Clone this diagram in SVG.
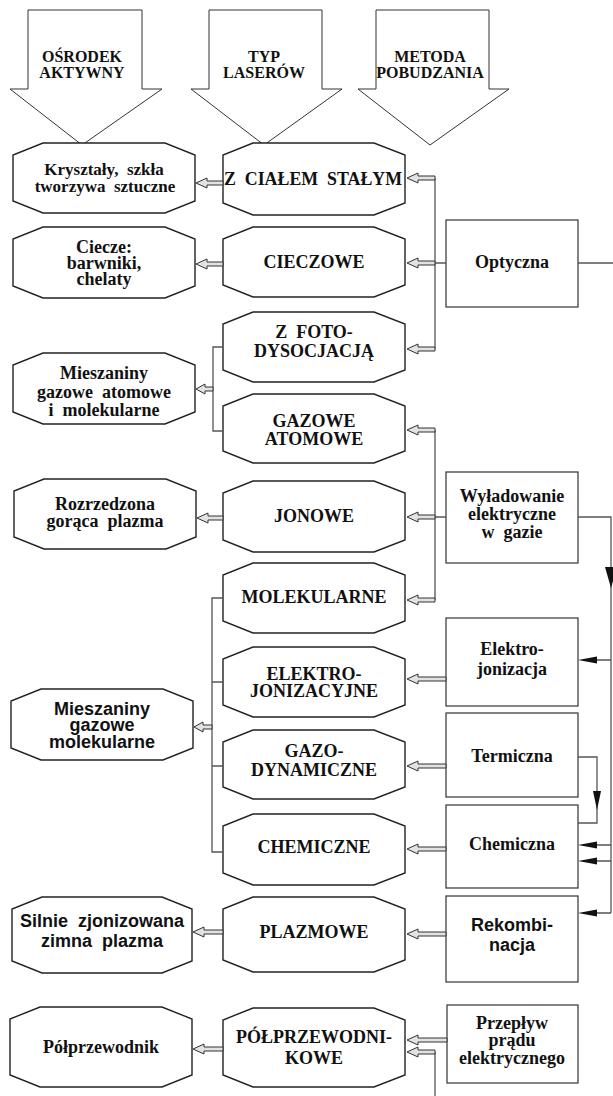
<svg xmlns="http://www.w3.org/2000/svg" width="613" height="1096" viewBox="0 0 613 1096">
<style>
.bg{fill:#fff}
.hd{fill:#fff;stroke:#333;stroke-width:1}
.oct{fill:#fff;stroke:#222;stroke-width:1.4}
.box{fill:#fff;stroke:#333;stroke-width:1.2}
.t{font-family:"Liberation Serif","Times New Roman",serif;font-weight:bold;font-size:18px;text-anchor:middle;fill:#111;white-space:pre}
.a{font-family:"Liberation Sans",Arial,sans-serif;font-weight:bold;font-size:18px;text-anchor:middle;fill:#111;white-space:pre}
.h{font-size:16px}
.s17{font-size:17px}
.ln{fill:none;stroke:#555;stroke-width:1.3}
.ha{fill:#e2e2e2;stroke:#333;stroke-width:1}
.ah{fill:#111;stroke:none}
</style>
<rect class="bg" x="0" y="0" width="613" height="1096"/>

<g id="head-osrodek">
<polygon class="hd" points="28,10 142,10 142,89 162,89 82,145 10,89 28,89"/>
<text class="t h" x="82" y="62">OŚRODEK</text>
<text class="t h" x="82" y="78">AKTYWNY</text>
</g>
<g id="head-typ">
<polygon class="hd" points="209,10 322,10 322,89 342,89 264,145 191,89 209,89"/>
<text class="t h" x="264" y="62">TYP</text>
<text class="t h" x="264" y="78">LASERÓW</text>
</g>
<g id="head-metoda">
<polygon class="hd" points="376,10 489,10 489,89 509,89 430,145 358,89 376,89"/>
<text class="t h" x="430" y="62">METODA</text>
<text class="t h" x="430" y="78">POBUDZANIA</text>
</g>

<!-- left column -->
<g id="n-krysztaly">
<polygon class="oct" points="43,143 165,143 195,155 195,201 165,213 43,213 13,201 13,155"/>
<text class="t s17" x="104" y="175">Kryształy,  szkła</text>
<text class="t s17" x="105" y="192">tworzywa  sztuczne</text>
</g>
<g id="n-ciecze">
<polygon class="oct" points="43,227 165,227 195,239 195,286 165,298 43,298 13,286 13,239"/>
<text class="t" x="104" y="253">Ciecze:</text>
<text class="t" x="104" y="269">barwniki,</text>
<text class="t" x="104" y="285">chelaty</text>
</g>
<g id="n-miesz-atom">
<polygon class="oct" points="43,353 165,353 195,365 195,412 165,424 43,424 13,412 13,365"/>
<text class="t" x="104" y="379">Mieszaniny</text>
<text class="t" x="104" y="398">gazowe  atomowe</text>
<text class="t" x="104" y="416">i  molekularne</text>
</g>
<g id="n-rozrzedzona">
<polygon class="oct" points="44,479 166,479 196,491 196,537 166,549 44,549 14,537 14,491"/>
<text class="t" x="105" y="510">Rozrzedzona</text>
<text class="t" x="105" y="527">gorąca  plazma</text>
</g>
<g id="n-miesz-mol">
<polygon class="oct" points="41,689 163,689 193,701 193,748 163,760 41,760 11,748 11,701"/>
<text class="a" x="102" y="715">Mieszaniny</text>
<text class="a" x="102" y="731">gazowe</text>
<text class="a" x="102" y="748">molekularne</text>
</g>
<g id="n-silnie">
<polygon class="oct" points="42,897 162,897 192,909 192,961 162,973 42,973 12,961 12,909"/>
<text class="a" x="102" y="927">Silnie  zjonizowana</text>
<text class="a" x="102" y="947">zimna  plazma</text>
</g>
<g id="n-polprzewodnik">
<polygon class="oct" points="40,1007 162,1007 192,1019 192,1075 162,1087 40,1087 10,1075 10,1019"/>
<text class="t" x="101" y="1053">Półprzewodnik</text>
</g>

<!-- middle column -->
<g id="n-cialem">
<polygon class="oct" points="253,143 374,143 405,155 405,203 374,215 253,215 223,203 223,155"/>
<text class="t" x="313" y="185" textLength="178" lengthAdjust="spacingAndGlyphs">Z  CIAŁEM  STAŁYM</text>
</g>
<g id="n-cieczowe">
<polygon class="oct" points="253,227 374,227 405,239 405,285 374,297 253,297 223,285 223,239"/>
<text class="t" x="314" y="268">CIECZOWE</text>
</g>
<g id="n-foto">
<polygon class="oct" points="253,312 374,312 405,324 405,370 374,382 253,382 223,370 223,324"/>
<text class="t" x="314" y="338">Z  FOTO-</text>
<text class="t" x="314" y="357">DYSOCJACJĄ</text>
</g>
<g id="n-gazowe">
<polygon class="oct" points="253,394 374,394 405,406 405,451 374,463 253,463 223,451 223,406"/>
<text class="t" x="314" y="427">GAZOWE</text>
<text class="t" x="314" y="445">ATOMOWE</text>
</g>
<g id="n-jonowe">
<polygon class="oct" points="253,481 374,481 405,493 405,540 374,552 253,552 223,540 223,493"/>
<text class="t" x="314" y="522">JONOWE</text>
</g>
<g id="n-molekularne">
<polygon class="oct" points="253,563 374,563 405,575 405,621 374,633 253,633 223,621 223,575"/>
<text class="t" x="314" y="603">MOLEKULARNE</text>
</g>
<g id="n-elektro">
<polygon class="oct" points="253,647 374,647 405,659 405,705 374,717 253,717 223,705 223,659"/>
<text class="t" x="314" y="680">ELEKTRO-</text>
<text class="t" x="314" y="697">JONIZACYJNE</text>
</g>
<g id="n-gazodyn">
<polygon class="oct" points="253,730 374,730 405,742 405,787 374,799 253,799 223,787 223,742"/>
<text class="t" x="314" y="757">GAZO-</text>
<text class="t" x="314" y="776">DYNAMICZNE</text>
</g>
<g id="n-chemiczne">
<polygon class="oct" points="253,814 374,814 405,826 405,873 374,885 253,885 223,873 223,826"/>
<text class="t" x="314" y="853">CHEMICZNE</text>
</g>
<g id="n-plazmowe">
<polygon class="oct" points="253,897 374,897 405,909 405,960 374,972 253,972 223,960 223,909"/>
<text class="t" x="314" y="938">PLAZMOWE</text>
</g>
<g id="n-polprzew-typ">
<polygon class="oct" points="253,1008 374,1008 405,1020 405,1075 374,1087 253,1087 223,1075 223,1020"/>
<text class="t" x="314" y="1043">PÓŁPRZEWODNI-</text>
<text class="t" x="314" y="1064">KOWE</text>
</g>

<!-- right column -->
<g id="n-optyczna">
<rect class="box" x="446" y="220" width="132" height="87"/>
<text class="t" x="512" y="268">Optyczna</text>
</g>
<g id="n-wyladowanie">
<rect class="box" x="446" y="472" width="132" height="91"/>
<text class="t" x="512" y="502">Wyładowanie</text>
<text class="t" x="512" y="520">elektryczne</text>
<text class="t" x="512" y="538">w  gazie</text>
</g>
<g id="n-elektrojon">
<rect class="box" x="446" y="618" width="132" height="88"/>
<text class="t" x="512" y="655">Elektro-</text>
<text class="t" x="512" y="675">jonizacja</text>
</g>
<g id="n-termiczna">
<rect class="box" x="446" y="713" width="132" height="84"/>
<text class="t" x="512" y="762">Termiczna</text>
</g>
<g id="n-chemiczna">
<rect class="box" x="446" y="805" width="132" height="83"/>
<text class="t" x="512" y="850">Chemiczna</text>
</g>
<g id="n-rekombinacja">
<rect class="box" x="446" y="896" width="132" height="86"/>
<text class="a" x="512" y="931">Rekombi-</text>
<text class="a" x="512" y="951">nacja</text>
</g>
<g id="n-przeplyw">
<rect class="box" x="447" y="1005" width="131" height="78"/>
<text class="t" x="512" y="1029">Przepływ</text>
<text class="t" x="512" y="1046">prądu</text>
<text class="t" x="512" y="1064">elektrycznego</text>
</g>

<g id="connectors">
<path class="ln" d="M435,178 V349 M435,263 H446 M578,263 H613"/>
<path class="ln" d="M435,430 V600 M435,517 H446"/>
<path class="ln" d="M578,517 H611 V913 M596,660 H611 M596,845 H611 M596,861 H611 M596,913 H611"/>
<path class="ln" d="M578,757 H597 V823 H578"/>
<path class="ln" d="M435,1052 V1096"/>
<path class="ln" d="M223,347 H213 V431 H223"/>
<path class="ln" d="M223,598 H212 V852 H223 M212,682 H223 M212,766 H223"/>
<polygon class="ah" points="611,588 605,567 617,567"/>
<polygon class="ah" points="597,810 593,791 601,791"/>
<polygon class="ah" points="578,660 597,656.5 597,663.5"/>
<polygon class="ah" points="578,845 597,841.5 597,848.5"/>
<polygon class="ah" points="578,861 597,857.5 597,864.5"/>
<polygon class="ah" points="578,913 597,909.5 597,916.5"/>
<path class="ha" d="M407,178 L418,173 L418,176 L435,176 L435,180 L418,180 L418,183 Z"/>
<path class="ha" d="M407,263 L418,258 L418,261 L435,261 L435,265 L418,265 L418,268 Z"/>
<path class="ha" d="M407,349 L418,344 L418,347 L435,347 L435,351 L418,351 L418,354 Z"/>
<path class="ha" d="M407,430 L418,425 L418,428 L435,428 L435,432 L418,432 L418,435 Z"/>
<path class="ha" d="M407,517 L418,512 L418,515 L435,515 L435,519 L418,519 L418,522 Z"/>
<path class="ha" d="M407,600 L418,595 L418,598 L435,598 L435,602 L418,602 L418,605 Z"/>
<path class="ha" d="M407,679 L418,674 L418,677 L446,677 L446,681 L418,681 L418,684 Z"/>
<path class="ha" d="M407,766 L418,761 L418,764 L446,764 L446,768 L418,768 L418,771 Z"/>
<path class="ha" d="M407,849 L418,844 L418,847 L446,847 L446,851 L418,851 L418,854 Z"/>
<path class="ha" d="M407,934 L418,929 L418,932 L446,932 L446,936 L418,936 L418,939 Z"/>
<path class="ha" d="M407,1040 L418,1035 L418,1038 L447,1038 L447,1042 L418,1042 L418,1045 Z"/>
<path class="ha" d="M407,1052 L418,1047 L418,1050 L435,1050 L435,1054 L418,1054 L418,1057 Z"/>
<path class="ha" d="M196,183 L207,178 L207,181 L223,181 L223,185 L207,185 L207,188 Z"/>
<path class="ha" d="M196,264 L207,259 L207,262 L223,262 L223,266 L207,266 L207,269 Z"/>
<path class="ha" d="M196,389 L205,384 L205,387 L213,387 L213,391 L205,391 L205,394 Z"/>
<path class="ha" d="M197,518 L208,513 L208,516 L223,516 L223,520 L208,520 L208,523 Z"/>
<path class="ha" d="M194,727 L203,722 L203,725 L212,725 L212,729 L203,729 L203,732 Z"/>
<path class="ha" d="M193,932 L204,927 L204,930 L223,930 L223,934 L204,934 L204,937 Z"/>
<path class="ha" d="M193,1049 L204,1044 L204,1047 L223,1047 L223,1051 L204,1051 L204,1054 Z"/>
</g>
</svg>
